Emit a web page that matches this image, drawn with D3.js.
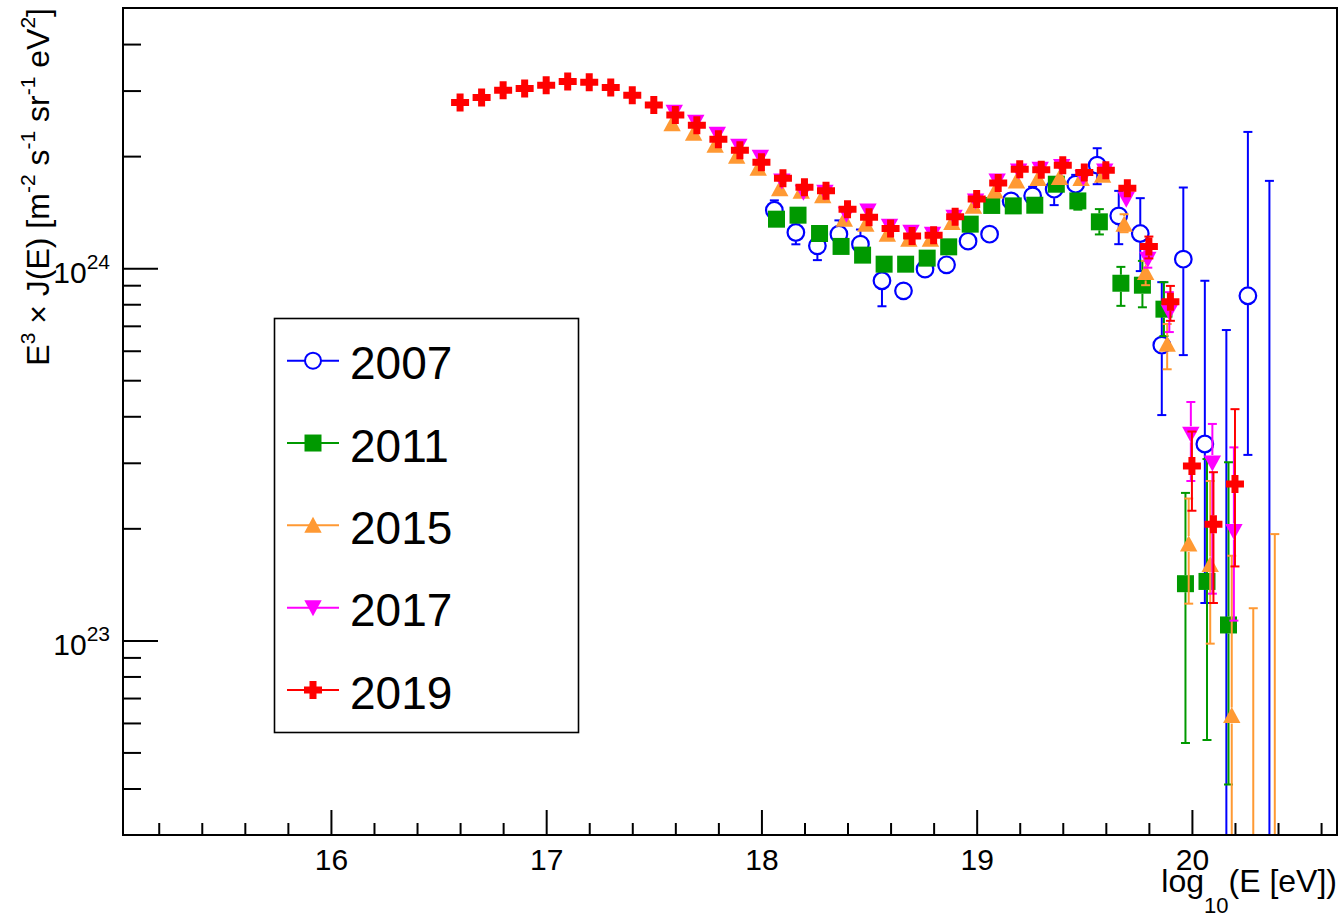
<!DOCTYPE html>
<html>
<head>
<meta charset="utf-8">
<script src="https://cdn.jsdelivr.net/npm/d3@7"></script>
<style>
body { margin: 0; background: #fff; }
svg { font-family: "Liberation Sans", Arial, Helvetica, sans-serif; }
</style>
</head>
<body>
<svg id="chart" width="1341" height="917"></svg>
<script>
// flux values are in units of 1e24 (E^3 J(E)), energies in log10(E/eV)
var UNIT = 1e24;

var years = ["2007", "2011", "2015", "2017", "2019"];

// 2007 - open circles (values 0.01 = below the frame, only the bar shows)
var x2007 = [18.06, 18.16, 18.26, 18.36, 18.46, 18.56, 18.66, 18.76, 18.86, 18.96,
             19.06, 19.16, 19.26, 19.36, 19.46, 19.56, 19.66, 19.76, 19.86, 19.96,
             20.06, 20.16, 20.26, 20.36];
var y2007 = [1.431, 1.247, 1.148, 1.234, 1.160, 0.925, 0.869, 0.994, 1.021, 1.182,
             1.234, 1.516, 1.564, 1.630, 1.681, 1.891, 1.382, 1.239, 0.621, 1.057,
             0.337, 0.01, 0.843, 0.01];
var hi2007 = [0.09, 0.08, 0.08, 0.11, 0.11, 0.12, 0.04, 0.05, 0.05, 0.05,
              0.06, 0.06, 0.09, 0.10, 0.10, 0.209, 0.231, 0.303, 0.296, 0.59,
              0.588, 0.672, 1.480, 1.706];
var lo2007 = [0.085, 0.088, 0.097, 0.10, 0.10, 0.135, 0.04, 0.05, 0.05, 0.05,
              0.06, 0.06, 0.09, 0.153, 0.10, 0.21, 0.222, 0.257, 0.218, 0.473,
              0.211, 0, 0.528, 0];

// 2011 - filled squares
var x2011 = [18.07, 18.17, 18.27, 18.37, 18.47, 18.57, 18.67, 18.77, 18.87, 18.97,
             19.07, 19.17, 19.27, 19.37, 19.47, 19.57, 19.67, 19.77, 19.87, 19.97,
             20.07, 20.17];
var y2011 = [1.354, 1.388, 1.239, 1.144, 1.084, 1.025, 1.025, 1.064, 1.141, 1.313,
             1.474, 1.470, 1.476, 1.681, 1.516, 1.332, 0.911, 0.900, 0.776, 0.142,
             0.144, 0.110];
var hi2011 = [0.04, 0.04, 0.04, 0.04, 0.04, 0.04, 0.04, 0.04, 0.04, 0.05,
              0.05, 0.05, 0.06, 0.07, 0.08, 0.109, 0.097, 0.146, 0.141, 0.107,
              0.163, 0.191];
var lo2011 = [0.04, 0.04, 0.04, 0.04, 0.04, 0.04, 0.04, 0.04, 0.04, 0.05,
              0.05, 0.05, 0.06, 0.07, 0.08, 0.10, 0.119, 0.115, 0.119, 0.089,
              0.090, 0.069];

// 2015 - filled triangles up
var x2015 = [17.585, 17.685, 17.785, 17.885, 17.985, 18.085, 18.185, 18.285, 18.385, 18.485,
             18.585, 18.685, 18.785, 18.885, 18.985, 19.085, 19.185, 19.285, 19.385, 19.485,
             19.585, 19.685, 19.785, 19.885, 19.985, 20.085, 20.185, 20.285, 20.385];
var y2015 = [2.443, 2.304, 2.139, 1.999, 1.856, 1.635, 1.610, 1.564, 1.354, 1.313,
             1.234, 1.196, 1.196, 1.327, 1.467, 1.613, 1.716, 1.741, 1.752, 1.741,
             1.777, 1.313, 0.974, 0.625, 0.1815, 0.160, 0.0628, 0.01, 0.01];
var hi2015 = [0.03, 0.03, 0.03, 0.03, 0.03, 0.03, 0.03, 0.03, 0.03, 0.03,
              0.03, 0.03, 0.03, 0.03, 0.03, 0.04, 0.04, 0.04, 0.04, 0.05,
              0.05, 0.083, 0.072, 0.083, 0.059, 0.108, 0.106, 0.112, 0.183];
var lo2015 = [0.03, 0.03, 0.03, 0.03, 0.03, 0.03, 0.03, 0.03, 0.03, 0.03,
              0.03, 0.03, 0.03, 0.03, 0.03, 0.04, 0.04, 0.04, 0.04, 0.05,
              0.05, 0.064, 0.074, 0.090, 0.056, 0.062, 0.0328, 0, 0];

// 2017 - filled triangles down
var x2017 = [17.595, 17.695, 17.795, 17.895, 17.995, 18.095, 18.195, 18.295, 18.395, 18.495,
             18.595, 18.695, 18.795, 18.895, 18.995, 19.095, 19.195, 19.295, 19.395, 19.495,
             19.595, 19.695, 19.795, 19.895, 19.995, 20.095, 20.195];
var y2017 = [2.624, 2.466, 2.290, 2.126, 1.987, 1.716, 1.600, 1.600, 1.396, 1.425,
             1.297, 1.249, 1.234, 1.371, 1.516, 1.716, 1.825, 1.845, 1.876, 1.752,
             1.825, 1.532, 1.057, 0.762, 0.358, 0.2995, 0.196];
var hi2017 = [0.02, 0.02, 0.02, 0.02, 0.02, 0.02, 0.02, 0.02, 0.02, 0.02,
              0.02, 0.02, 0.02, 0.02, 0.03, 0.03, 0.03, 0.03, 0.04, 0.04,
              0.05, 0.06, 0.054, 0.10, 0.079, 0.082, 0.134];
var lo2017 = [0.02, 0.02, 0.02, 0.02, 0.02, 0.02, 0.02, 0.02, 0.02, 0.02,
              0.02, 0.02, 0.02, 0.02, 0.03, 0.03, 0.03, 0.03, 0.04, 0.04,
              0.05, 0.06, 0.054, 0.0885, 0.090, 0.166, 0.083];

// 2019 - filled crosses
var x2019 = [16.6, 16.7, 16.8, 16.9, 17.0, 17.1, 17.2, 17.3, 17.4, 17.5,
             17.6, 17.7, 17.8, 17.9, 18.0, 18.1, 18.2, 18.3, 18.4, 18.5,
             18.6, 18.7, 18.8, 18.9, 19.0, 19.1, 19.2, 19.3, 19.4, 19.5,
             19.6, 19.7, 19.8, 19.9, 20.0, 20.1, 20.2];
var y2019 = [2.786, 2.873, 3.006, 3.038, 3.101, 3.173, 3.159, 3.057, 2.915, 2.745,
             2.580, 2.421, 2.221, 2.074, 1.926, 1.745, 1.650, 1.615, 1.440, 1.371,
             1.278, 1.221, 1.226, 1.375, 1.535, 1.694, 1.845, 1.839, 1.891, 1.807,
             1.833, 1.640, 1.144, 0.812, 0.294, 0.205, 0.263];
var hi2019 = [0.01, 0.01, 0.01, 0.01, 0.01, 0.01, 0.01, 0.01, 0.01, 0.01,
              0.01, 0.01, 0.01, 0.01, 0.01, 0.02, 0.02, 0.02, 0.02, 0.02,
              0.02, 0.02, 0.02, 0.02, 0.02, 0.03, 0.03, 0.03, 0.03, 0.04,
              0.04, 0.075, 0.072, 0.084, 0.070, 0.078, 0.155];
var lo2019 = [0.01, 0.01, 0.01, 0.01, 0.01, 0.01, 0.01, 0.01, 0.01, 0.01,
              0.01, 0.01, 0.01, 0.01, 0.01, 0.02, 0.02, 0.02, 0.02, 0.02,
              0.02, 0.02, 0.02, 0.02, 0.02, 0.03, 0.03, 0.03, 0.03, 0.04,
              0.04, 0.072, 0.082, 0.090, 0.071, 0.079, 0.105];

// axis ticks
var xMajorTicks = [16, 17, 18, 19, 20];
var xMinorTicks = [15.2, 15.4, 15.6, 15.8, 16.2, 16.4, 16.6, 16.8, 17.2, 17.4, 17.6, 17.8,
                   18.2, 18.4, 18.6, 18.8, 19.2, 19.4, 19.6, 19.8, 20.2, 20.4, 20.6];
var yMajorTicks = [1e23, 1e24];
var yMajorExp = ["23", "24"];
var yMinorTicks = [4e22, 5e22, 6e22, 7e22, 8e22, 9e22,
                   2e23, 3e23, 4e23, 5e23, 6e23, 7e23, 8e23, 9e23,
                   2e24, 3e24, 4e24];

var series = [
    { name: "2007", x: x2007, y: y2007, hi: hi2007, lo: lo2007, color: "#0000ff", marker: "circle" },
    { name: "2011", x: x2011, y: y2011, hi: hi2011, lo: lo2011, color: "#009900", marker: "square" },
    { name: "2015", x: x2015, y: y2015, hi: hi2015, lo: lo2015, color: "#ff9933", marker: "up" },
    { name: "2017", x: x2017, y: y2017, hi: hi2017, lo: lo2017, color: "#ff00ff", marker: "down" },
    { name: "2019", x: x2019, y: y2019, hi: hi2019, lo: lo2019, color: "#ff0000", marker: "cross" }
];

var plotLeft = 123, plotRight = 1337, plotTop = 8, plotBottom = 835;

var xScale = d3.scaleLinear().domain([15.034, 20.674]).range([plotLeft, plotRight]);
var yScale = d3.scaleLog().domain([3e22, 5e24]).range([plotBottom, plotTop]);

var svg = d3.select("#chart");

svg.append("defs").append("clipPath").attr("id", "frameClip")
    .append("rect")
    .attr("x", plotLeft).attr("y", plotTop)
    .attr("width", plotRight - plotLeft).attr("height", plotBottom - plotTop);

// marker shapes
var markerSize = { circle: 9, square: 8.5, up: 8, down: 8, cross: 9 };
function markerPath(type) {
    if (type === "square") return "M-8.5,-8.5H8.5V8.5H-8.5Z";
    if (type === "up") return "M0,-8.5L8.7,7.5L-8.7,7.5Z";
    if (type === "down") return "M0,8.5L8.7,-7.5L-8.7,-7.5Z";
    if (type === "cross") return "M-3.5,-9H3.5V-3.5H9V3.5H3.5V9H-3.5V3.5H-9V-3.5H-3.5Z";
    return null;
}
function drawMarker(g, s) {
    if (s.marker === "circle") {
        g.append("circle").attr("r", 8.3)
            .attr("fill", "none").attr("stroke", s.color).attr("stroke-width", 2.2);
    } else {
        g.append("path").attr("d", markerPath(s.marker)).attr("fill", s.color);
    }
}

// axes ticks (pointing inside the frame)
function styleAxis(g) {
    g.select(".domain").remove();
    g.attr("font-size", null).attr("font-family", null);
    g.selectAll(".tick line").attr("stroke", "#000").attr("stroke-width", 2);
}

svg.append("g")
    .attr("transform", "translate(0," + plotBottom + ")")
    .call(d3.axisBottom(xScale).tickValues(xMinorTicks).tickSize(-12).tickFormat(""))
    .call(styleAxis);

svg.append("g")
    .attr("transform", "translate(0," + plotBottom + ")")
    .call(d3.axisBottom(xScale).tickValues(xMajorTicks).tickSize(-25).tickPadding(14).tickFormat(d3.format("d")))
    .call(styleAxis)
    .call(function (g) {
        g.selectAll("text")
            .attr("fill", "#000")
            .attr("font-size", 30);
    });

svg.append("g")
    .attr("transform", "translate(" + plotLeft + ",0)")
    .call(d3.axisLeft(yScale).tickValues(yMinorTicks).tickSize(-18).tickFormat(""))
    .call(styleAxis);

svg.append("g")
    .attr("transform", "translate(" + plotLeft + ",0)")
    .call(d3.axisLeft(yScale).tickValues(yMajorTicks).tickSize(-35).tickFormat(""))
    .call(styleAxis);

// y tick labels 10^23, 10^24
yMajorTicks.forEach(function (v, i) {
    var t = svg.append("text")
        .attr("x", 110)
        .attr("y", yScale(v) + 15)
        .attr("text-anchor", "end")
        .attr("font-size", 30);
    t.append("tspan").text("10");
    t.append("tspan").attr("font-size", 21).attr("dy", -14).text(yMajorExp[i]);
});

// data
var plot = svg.append("g").attr("clip-path", "url(#frameClip)");

series.forEach(function (s) {
    var r = markerSize[s.marker];
    var pts = s.x.map(function (d, i) {
        var lo = s.y[i] - s.lo[i];
        return {
            x: d,
            y: s.y[i] * UNIT,
            hi: (s.y[i] + s.hi[i]) * UNIT,
            lo: (lo > 0 ? lo : 0.001) * UNIT
        };
    });
    var g = plot.append("g");

    var bars = g.selectAll("g.bar").data(pts).enter().append("g").attr("class", "bar")
        .attr("stroke", s.color).attr("stroke-width", 2);
    bars.each(function (d) {
        var b = d3.select(this);
        var px = xScale(d.x), py = yScale(d.y);
        var yHi = yScale(d.hi), yLo = yScale(d.lo);
        if (yHi < py - r) {
            b.append("line").attr("x1", px).attr("x2", px).attr("y1", yHi).attr("y2", py - r);
            b.append("line").attr("x1", px - 4.5).attr("x2", px + 4.5).attr("y1", yHi).attr("y2", yHi);
        }
        if (yLo > py + r) {
            b.append("line").attr("x1", px).attr("x2", px).attr("y1", py + r).attr("y2", yLo);
            b.append("line").attr("x1", px - 4.5).attr("x2", px + 4.5).attr("y1", yLo).attr("y2", yLo);
        }
    });

    g.selectAll("g.pt").data(pts).enter().append("g").attr("class", "pt")
        .attr("transform", function (d) { return "translate(" + xScale(d.x) + "," + yScale(d.y) + ")"; })
        .each(function () { drawMarker(d3.select(this), s); });
});

// frame
svg.append("rect")
    .attr("x", plotLeft).attr("y", plotTop)
    .attr("width", plotRight - plotLeft).attr("height", plotBottom - plotTop)
    .attr("fill", "none").attr("stroke", "#000").attr("stroke-width", 2);

// axis titles
var xt = svg.append("text")
    .attr("x", plotRight).attr("y", 892)
    .attr("text-anchor", "end")
    .attr("font-size", 32);
xt.append("tspan").text("log");
xt.append("tspan").attr("font-size", 22).attr("dy", 21).text("10");
xt.append("tspan").attr("dy", -21).text("(E [eV])");

var yParts = [["E", 0], ["3", 1], [" \u00d7 J(E) [m", 0], ["-2", 1], [" s", 0], ["-1", 1],
              [" sr", 0], ["-1", 1], [" eV", 0], ["2", 1], ["]", 0]];
var yt = svg.append("text")
    .attr("transform", "translate(49," + plotTop + ") rotate(-90)")
    .attr("text-anchor", "end")
    .attr("font-size", 32);
var shift = 0;
yParts.forEach(function (p) {
    var want = p[1] ? -14 : 0;
    yt.append("tspan")
        .attr("font-size", p[1] ? 21 : 32)
        .attr("dy", want - shift)
        .text(p[0]);
    shift = want;
});

// legend
var lx = 274.5, ly = 318.5, lw = 304, lh = 414;
svg.append("rect")
    .attr("x", lx).attr("y", ly).attr("width", lw).attr("height", lh)
    .attr("fill", "#fff").attr("stroke", "#000").attr("stroke-width", 1.6);

var rowY = d3.scalePoint().domain(years).range([360.7, 690]);
series.forEach(function (s) {
    var cy = rowY(s.name);
    var row = svg.append("g");
    row.append("line")
        .attr("x1", 287).attr("x2", 339).attr("y1", cy).attr("y2", cy)
        .attr("stroke", s.color).attr("stroke-width", 2);
    var m = row.append("g").attr("transform", "translate(313," + cy + ")");
    if (s.marker === "circle") {
        m.append("circle").attr("r", 8).attr("fill", "#fff")
            .attr("stroke", s.color).attr("stroke-width", 2);
    } else {
        drawMarker(m, s);
    }
    row.append("text")
        .attr("x", 350).attr("y", cy + 18.6)
        .attr("font-size", 46)
        .text(s.name);
});
</script>
</body>
</html>
